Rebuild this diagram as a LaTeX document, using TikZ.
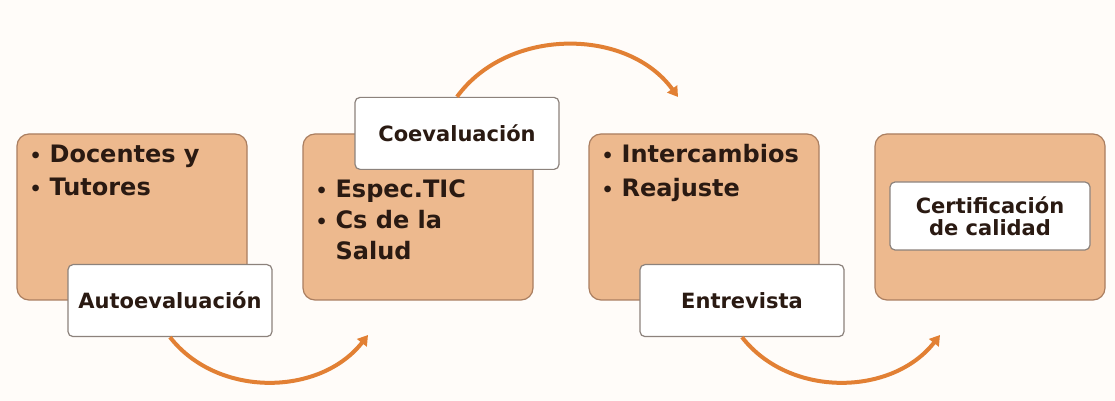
\documentclass[tikz,border=0pt]{standalone}
\usepackage{fontspec}
\setmainfont{DejaVu Sans}
\usepackage{tikz}
\usetikzlibrary{arrows.meta,positioning}

\definecolor{bgcol}{RGB}{255,252,249}
\definecolor{boxfill}{RGB}{237,185,142}
\definecolor{boxline}{RGB}{170,126,96}
\definecolor{tagline}{RGB}{140,130,124}
\definecolor{flowcol}{RGB}{226,128,52}
\definecolor{textcol}{RGB}{42,26,18}

\newcommand{\dotitem}{\makebox[14pt][c]{\fontsize{19}{19}\selectfont\textbullet}}

\begin{document}
\begin{tikzpicture}[x=1pt,y=1pt,
    phase/.style={draw=boxline, line width=1.2pt, fill=boxfill, rounded corners=12pt,
                  minimum width=230pt, minimum height=166pt, inner sep=0pt},
    tag/.style={draw=tagline, line width=1.2pt, fill=white, rounded corners=5pt,
                minimum width=204pt, minimum height=72pt, inner sep=0pt, align=center,
                text=textcol, font=\bfseries\fontsize{21}{22}\selectfont},
    items/.style={anchor=base west, inner sep=0pt, text=textcol,
                  font=\bfseries\fontsize{24}{33}\selectfont},
    flow/.style={draw=flowcol, line width=4pt, -{Triangle[length=10pt,width=12pt]}}]

  \fill[bgcol] (0,0) rectangle (1115,401);

  % fases
  \node[phase] (f1) at (132,184) {};
  \node[phase] (f2) at (418,184) {};
  \node[phase] (f3) at (704,184) {};
  \node[phase] (f4) at (990,184) {};

  % contenidos
  \node[items] (c1) at ([xshift=12pt,yshift=-29pt]f1.north west)
    {\begin{tabular}[t]{@{}l@{\hspace{7pt}}l@{}}\dotitem & Docentes y\\ \dotitem & Tutores\end{tabular}};
  \node[items, font=\bfseries\fontsize{24}{31}\selectfont] (c2) at ([xshift=12pt,yshift=-64pt]f2.north west)
    {\begin{tabular}[t]{@{}l@{\hspace{7pt}}l@{}}\dotitem & Espec.TIC\\ \dotitem & Cs de la\\ & Salud\end{tabular}};
  \node[items, font=\bfseries\fontsize{24}{34}\selectfont] (c3) at ([xshift=12pt,yshift=-29pt]f3.north west)
    {\begin{tabular}[t]{@{}l@{\hspace{7pt}}l@{}}\dotitem & Intercambios\\ \dotitem & Reajuste\end{tabular}};

  % etiquetas
  \node[tag] (t1) at ([xshift=38pt]f1.south) {Autoevaluación};
  \node[tag] (t2) at ([xshift=39pt]f2.north) {Coevaluación};
  \node[tag] (t3) at ([xshift=38pt]f3.south) {Entrevista};
  \node[tag, minimum width=200pt, minimum height=68pt] (t4) at ([yshift=1pt]f4.center)
    {Certificación\\de calidad};

  % flechas
  \coordinate (a1) at (368,66);
  \coordinate (a2) at (678,304);
  \coordinate (a3) at (940,66);
  \draw[flow] (t1.south) to[out=-52,in=-128] (a1);
  \draw[flow] (t2.north) to[out=54,in=126] (a2);
  \draw[flow] (t3.south) to[out=-52,in=-128] (a3);
\end{tikzpicture}
\end{document}
